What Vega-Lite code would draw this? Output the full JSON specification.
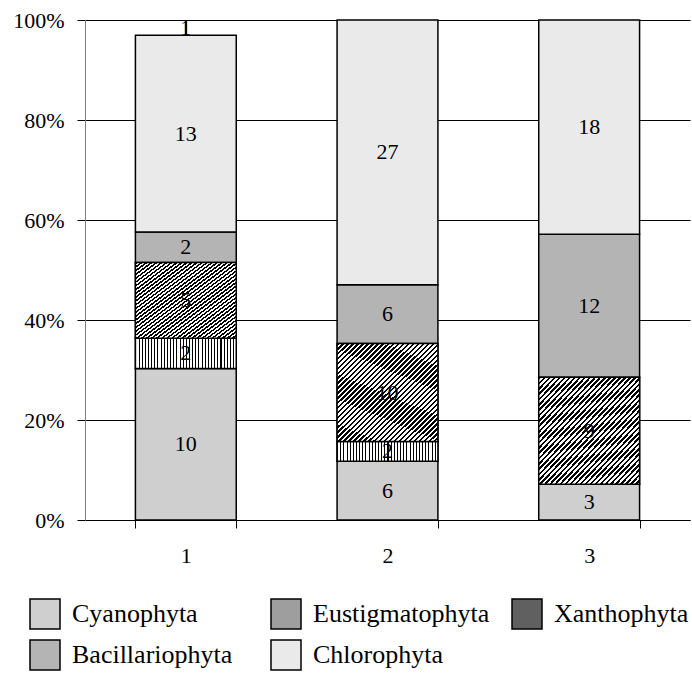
{
  "$schema": "https://vega.github.io/schema/vega-lite/v6.json",
  "width": 605,
  "height": 500,
  "autosize": {"type": "none"},
  "padding": {"left": 85, "top": 20, "right": 2, "bottom": 157},
  "background": "white",
  "config": {
    "view": {"stroke": null},
    "font": "Liberation Serif",
    "axis": {"labelFont": "Liberation Serif", "labelColor": "black", "labelFontSize": 22, "tickColor": "black", "domainColor": "black", "title": null}
  },
  "data": {
    "values": [
      {"Station": "1", "Division": "Cyanophyta", "Count": 10, "order": 1},
      {"Station": "1", "Division": "Eustigmatophyta", "Count": 2, "order": 2},
      {"Station": "1", "Division": "Xanthophyta", "Count": 5, "order": 3},
      {"Station": "1", "Division": "Bacillariophyta", "Count": 2, "order": 4},
      {"Station": "1", "Division": "Chlorophyta", "Count": 13, "order": 5},
      {"Station": "1", "Division": "Other", "Count": 1, "order": 6},
      {"Station": "2", "Division": "Cyanophyta", "Count": 6, "order": 1},
      {"Station": "2", "Division": "Eustigmatophyta", "Count": 2, "order": 2},
      {"Station": "2", "Division": "Xanthophyta", "Count": 10, "order": 3},
      {"Station": "2", "Division": "Bacillariophyta", "Count": 6, "order": 4},
      {"Station": "2", "Division": "Chlorophyta", "Count": 27, "order": 5},
      {"Station": "3", "Division": "Cyanophyta", "Count": 3, "order": 1},
      {"Station": "3", "Division": "Xanthophyta", "Count": 9, "order": 3},
      {"Station": "3", "Division": "Bacillariophyta", "Count": 12, "order": 4},
      {"Station": "3", "Division": "Chlorophyta", "Count": 18, "order": 5}
    ]
  },
  "transform": [
    {"stack": "Count", "groupby": ["Station"], "sort": [{"field": "order", "order": "ascending"}], "offset": "normalize", "as": ["y0", "y1"]},
    {"calculate": "(datum.y0 + datum.y1) / 2", "as": "ymid"}
  ],
  "encoding": {
    "x": {
      "field": "Station", "type": "nominal",
      "scale": {"paddingInner": 0.5, "paddingOuter": 0.25},
      "axis": {"labelAngle": 0, "tickBand": "extent", "tickSize": 8, "labelPadding": 17, "title": null}
    }
  },
  "layer": [
    {
      "transform": [{"filter": "datum.Division !== 'Other'"}],
      "mark": {"type": "bar", "stroke": "black", "strokeWidth": 1.5},
      "encoding": {
        "y": {
          "field": "y1", "type": "quantitative",
          "scale": {"domain": [0, 1]},
          "axis": {"format": "%", "values": [0, 0.2, 0.4, 0.6, 0.8, 1], "grid": true, "gridColor": "black", "gridOpacity": 1, "tickSize": 8, "labelPadding": 13, "domainColor": "#808080", "title": null}
        },
        "y2": {"field": "y0"},
        "fill": {
          "field": "Division", "type": "nominal",
          "scale": {
            "domain": ["Cyanophyta", "Eustigmatophyta", "Xanthophyta", "Bacillariophyta", "Chlorophyta"],
            "range": ["#cfcfcf", "#9e9e9e", "#606060", "#b4b4b4", "#eaeaea"]
          },
          "legend": {
            "orient": "none", "legendX": -56, "legendY": 578, "title": null, "direction": "horizontal",
            "columns": 3, "gridAlign": "all", "columnPadding": 19, "rowPadding": 5,
            "symbolType": "square", "symbolSize": 900, "symbolStrokeColor": "black", "symbolStrokeWidth": 1.5,
            "labelFont": "Liberation Serif", "labelFontSize": 26, "labelColor": "black", "labelOffset": 11, "labelLimit": 400,
            "padding": 0
          }
        }
      }
    },
    {
      "transform": [{"filter": "datum.Division === 'Eustigmatophyta'"}],
      "mark": {"type": "bar", "stroke": "black", "strokeWidth": 1.5,
        "fill": {"gradient": "linear", "x1": 0, "y1": 0, "x2": 1, "y2": 0, "stops": [
          {"offset": 0, "color": "#000"}, {"offset": 0.01, "color": "#000"}, {"offset": 0.01, "color": "#fff"}, {"offset": 0.03125, "color": "#fff"},
          {"offset": 0.03125, "color": "#000"}, {"offset": 0.04125, "color": "#000"}, {"offset": 0.04125, "color": "#fff"}, {"offset": 0.0625, "color": "#fff"},
          {"offset": 0.0625, "color": "#000"}, {"offset": 0.0725, "color": "#000"}, {"offset": 0.0725, "color": "#fff"}, {"offset": 0.09375, "color": "#fff"},
          {"offset": 0.09375, "color": "#000"}, {"offset": 0.10375, "color": "#000"}, {"offset": 0.10375, "color": "#fff"}, {"offset": 0.125, "color": "#fff"},
          {"offset": 0.125, "color": "#000"}, {"offset": 0.135, "color": "#000"}, {"offset": 0.135, "color": "#fff"}, {"offset": 0.15625, "color": "#fff"},
          {"offset": 0.15625, "color": "#000"}, {"offset": 0.16625, "color": "#000"}, {"offset": 0.16625, "color": "#fff"}, {"offset": 0.1875, "color": "#fff"},
          {"offset": 0.1875, "color": "#000"}, {"offset": 0.1975, "color": "#000"}, {"offset": 0.1975, "color": "#fff"}, {"offset": 0.21875, "color": "#fff"},
          {"offset": 0.21875, "color": "#000"}, {"offset": 0.22875, "color": "#000"}, {"offset": 0.22875, "color": "#fff"}, {"offset": 0.25, "color": "#fff"},
          {"offset": 0.25, "color": "#000"}, {"offset": 0.26, "color": "#000"}, {"offset": 0.26, "color": "#fff"}, {"offset": 0.28125, "color": "#fff"},
          {"offset": 0.28125, "color": "#000"}, {"offset": 0.29125, "color": "#000"}, {"offset": 0.29125, "color": "#fff"}, {"offset": 0.3125, "color": "#fff"},
          {"offset": 0.3125, "color": "#000"}, {"offset": 0.3225, "color": "#000"}, {"offset": 0.3225, "color": "#fff"}, {"offset": 0.34375, "color": "#fff"},
          {"offset": 0.34375, "color": "#000"}, {"offset": 0.35375, "color": "#000"}, {"offset": 0.35375, "color": "#fff"}, {"offset": 0.375, "color": "#fff"},
          {"offset": 0.375, "color": "#000"}, {"offset": 0.385, "color": "#000"}, {"offset": 0.385, "color": "#fff"}, {"offset": 0.40625, "color": "#fff"},
          {"offset": 0.40625, "color": "#000"}, {"offset": 0.41625, "color": "#000"}, {"offset": 0.41625, "color": "#fff"}, {"offset": 0.4375, "color": "#fff"},
          {"offset": 0.4375, "color": "#000"}, {"offset": 0.4475, "color": "#000"}, {"offset": 0.4475, "color": "#fff"}, {"offset": 0.46875, "color": "#fff"},
          {"offset": 0.46875, "color": "#000"}, {"offset": 0.47875, "color": "#000"}, {"offset": 0.47875, "color": "#fff"}, {"offset": 0.5, "color": "#fff"},
          {"offset": 0.5, "color": "#000"}, {"offset": 0.51, "color": "#000"}, {"offset": 0.51, "color": "#fff"}, {"offset": 0.53125, "color": "#fff"},
          {"offset": 0.53125, "color": "#000"}, {"offset": 0.54125, "color": "#000"}, {"offset": 0.54125, "color": "#fff"}, {"offset": 0.5625, "color": "#fff"},
          {"offset": 0.5625, "color": "#000"}, {"offset": 0.5725, "color": "#000"}, {"offset": 0.5725, "color": "#fff"}, {"offset": 0.59375, "color": "#fff"},
          {"offset": 0.59375, "color": "#000"}, {"offset": 0.60375, "color": "#000"}, {"offset": 0.60375, "color": "#fff"}, {"offset": 0.625, "color": "#fff"},
          {"offset": 0.625, "color": "#000"}, {"offset": 0.635, "color": "#000"}, {"offset": 0.635, "color": "#fff"}, {"offset": 0.65625, "color": "#fff"},
          {"offset": 0.65625, "color": "#000"}, {"offset": 0.66625, "color": "#000"}, {"offset": 0.66625, "color": "#fff"}, {"offset": 0.6875, "color": "#fff"},
          {"offset": 0.6875, "color": "#000"}, {"offset": 0.6975, "color": "#000"}, {"offset": 0.6975, "color": "#fff"}, {"offset": 0.71875, "color": "#fff"},
          {"offset": 0.71875, "color": "#000"}, {"offset": 0.72875, "color": "#000"}, {"offset": 0.72875, "color": "#fff"}, {"offset": 0.75, "color": "#fff"},
          {"offset": 0.75, "color": "#000"}, {"offset": 0.76, "color": "#000"}, {"offset": 0.76, "color": "#fff"}, {"offset": 0.78125, "color": "#fff"},
          {"offset": 0.78125, "color": "#000"}, {"offset": 0.79125, "color": "#000"}, {"offset": 0.79125, "color": "#fff"}, {"offset": 0.8125, "color": "#fff"},
          {"offset": 0.8125, "color": "#000"}, {"offset": 0.8225, "color": "#000"}, {"offset": 0.8225, "color": "#fff"}, {"offset": 0.84375, "color": "#fff"},
          {"offset": 0.84375, "color": "#000"}, {"offset": 0.85375, "color": "#000"}, {"offset": 0.85375, "color": "#fff"}, {"offset": 0.875, "color": "#fff"},
          {"offset": 0.875, "color": "#000"}, {"offset": 0.885, "color": "#000"}, {"offset": 0.885, "color": "#fff"}, {"offset": 0.90625, "color": "#fff"},
          {"offset": 0.90625, "color": "#000"}, {"offset": 0.91625, "color": "#000"}, {"offset": 0.91625, "color": "#fff"}, {"offset": 0.9375, "color": "#fff"},
          {"offset": 0.9375, "color": "#000"}, {"offset": 0.9475, "color": "#000"}, {"offset": 0.9475, "color": "#fff"}, {"offset": 0.96875, "color": "#fff"},
          {"offset": 0.96875, "color": "#000"}, {"offset": 0.97875, "color": "#000"}, {"offset": 0.97875, "color": "#fff"}, {"offset": 1, "color": "#fff"}
        ]}
      },
      "encoding": {
        "y": {"field": "y1", "type": "quantitative"},
        "y2": {"field": "y0"}
      }
    },
    {
      "transform": [{"filter": "datum.Division === 'Xanthophyta'"}],
      "mark": {"type": "bar", "stroke": "black", "strokeWidth": 1.5,
        "fill": {"gradient": "linear", "x1": 0, "y1": 0, "x2": 1, "y2": 1, "stops": [
          {"offset": 0, "color": "#000"}, {"offset": 0.0125, "color": "#000"}, {"offset": 0.0125, "color": "#fff"}, {"offset": 0.025, "color": "#fff"},
          {"offset": 0.025, "color": "#000"}, {"offset": 0.0375, "color": "#000"}, {"offset": 0.0375, "color": "#fff"}, {"offset": 0.05, "color": "#fff"},
          {"offset": 0.05, "color": "#000"}, {"offset": 0.0625, "color": "#000"}, {"offset": 0.0625, "color": "#fff"}, {"offset": 0.075, "color": "#fff"},
          {"offset": 0.075, "color": "#000"}, {"offset": 0.0875, "color": "#000"}, {"offset": 0.0875, "color": "#fff"}, {"offset": 0.1, "color": "#fff"},
          {"offset": 0.1, "color": "#000"}, {"offset": 0.1125, "color": "#000"}, {"offset": 0.1125, "color": "#fff"}, {"offset": 0.125, "color": "#fff"},
          {"offset": 0.125, "color": "#000"}, {"offset": 0.1375, "color": "#000"}, {"offset": 0.1375, "color": "#fff"}, {"offset": 0.15, "color": "#fff"},
          {"offset": 0.15, "color": "#000"}, {"offset": 0.1625, "color": "#000"}, {"offset": 0.1625, "color": "#fff"}, {"offset": 0.175, "color": "#fff"},
          {"offset": 0.175, "color": "#000"}, {"offset": 0.1875, "color": "#000"}, {"offset": 0.1875, "color": "#fff"}, {"offset": 0.2, "color": "#fff"},
          {"offset": 0.2, "color": "#000"}, {"offset": 0.2125, "color": "#000"}, {"offset": 0.2125, "color": "#fff"}, {"offset": 0.225, "color": "#fff"},
          {"offset": 0.225, "color": "#000"}, {"offset": 0.2375, "color": "#000"}, {"offset": 0.2375, "color": "#fff"}, {"offset": 0.25, "color": "#fff"},
          {"offset": 0.25, "color": "#000"}, {"offset": 0.2625, "color": "#000"}, {"offset": 0.2625, "color": "#fff"}, {"offset": 0.275, "color": "#fff"},
          {"offset": 0.275, "color": "#000"}, {"offset": 0.2875, "color": "#000"}, {"offset": 0.2875, "color": "#fff"}, {"offset": 0.3, "color": "#fff"},
          {"offset": 0.3, "color": "#000"}, {"offset": 0.3125, "color": "#000"}, {"offset": 0.3125, "color": "#fff"}, {"offset": 0.325, "color": "#fff"},
          {"offset": 0.325, "color": "#000"}, {"offset": 0.3375, "color": "#000"}, {"offset": 0.3375, "color": "#fff"}, {"offset": 0.35, "color": "#fff"},
          {"offset": 0.35, "color": "#000"}, {"offset": 0.3625, "color": "#000"}, {"offset": 0.3625, "color": "#fff"}, {"offset": 0.375, "color": "#fff"},
          {"offset": 0.375, "color": "#000"}, {"offset": 0.3875, "color": "#000"}, {"offset": 0.3875, "color": "#fff"}, {"offset": 0.4, "color": "#fff"},
          {"offset": 0.4, "color": "#000"}, {"offset": 0.4125, "color": "#000"}, {"offset": 0.4125, "color": "#fff"}, {"offset": 0.425, "color": "#fff"},
          {"offset": 0.425, "color": "#000"}, {"offset": 0.4375, "color": "#000"}, {"offset": 0.4375, "color": "#fff"}, {"offset": 0.45, "color": "#fff"},
          {"offset": 0.45, "color": "#000"}, {"offset": 0.4625, "color": "#000"}, {"offset": 0.4625, "color": "#fff"}, {"offset": 0.475, "color": "#fff"},
          {"offset": 0.475, "color": "#000"}, {"offset": 0.4875, "color": "#000"}, {"offset": 0.4875, "color": "#fff"}, {"offset": 0.5, "color": "#fff"},
          {"offset": 0.5, "color": "#000"}, {"offset": 0.5125, "color": "#000"}, {"offset": 0.5125, "color": "#fff"}, {"offset": 0.525, "color": "#fff"},
          {"offset": 0.525, "color": "#000"}, {"offset": 0.5375, "color": "#000"}, {"offset": 0.5375, "color": "#fff"}, {"offset": 0.55, "color": "#fff"},
          {"offset": 0.55, "color": "#000"}, {"offset": 0.5625, "color": "#000"}, {"offset": 0.5625, "color": "#fff"}, {"offset": 0.575, "color": "#fff"},
          {"offset": 0.575, "color": "#000"}, {"offset": 0.5875, "color": "#000"}, {"offset": 0.5875, "color": "#fff"}, {"offset": 0.6, "color": "#fff"},
          {"offset": 0.6, "color": "#000"}, {"offset": 0.6125, "color": "#000"}, {"offset": 0.6125, "color": "#fff"}, {"offset": 0.625, "color": "#fff"},
          {"offset": 0.625, "color": "#000"}, {"offset": 0.6375, "color": "#000"}, {"offset": 0.6375, "color": "#fff"}, {"offset": 0.65, "color": "#fff"},
          {"offset": 0.65, "color": "#000"}, {"offset": 0.6625, "color": "#000"}, {"offset": 0.6625, "color": "#fff"}, {"offset": 0.675, "color": "#fff"},
          {"offset": 0.675, "color": "#000"}, {"offset": 0.6875, "color": "#000"}, {"offset": 0.6875, "color": "#fff"}, {"offset": 0.7, "color": "#fff"},
          {"offset": 0.7, "color": "#000"}, {"offset": 0.7125, "color": "#000"}, {"offset": 0.7125, "color": "#fff"}, {"offset": 0.725, "color": "#fff"},
          {"offset": 0.725, "color": "#000"}, {"offset": 0.7375, "color": "#000"}, {"offset": 0.7375, "color": "#fff"}, {"offset": 0.75, "color": "#fff"},
          {"offset": 0.75, "color": "#000"}, {"offset": 0.7625, "color": "#000"}, {"offset": 0.7625, "color": "#fff"}, {"offset": 0.775, "color": "#fff"},
          {"offset": 0.775, "color": "#000"}, {"offset": 0.7875, "color": "#000"}, {"offset": 0.7875, "color": "#fff"}, {"offset": 0.8, "color": "#fff"},
          {"offset": 0.8, "color": "#000"}, {"offset": 0.8125, "color": "#000"}, {"offset": 0.8125, "color": "#fff"}, {"offset": 0.825, "color": "#fff"},
          {"offset": 0.825, "color": "#000"}, {"offset": 0.8375, "color": "#000"}, {"offset": 0.8375, "color": "#fff"}, {"offset": 0.85, "color": "#fff"},
          {"offset": 0.85, "color": "#000"}, {"offset": 0.8625, "color": "#000"}, {"offset": 0.8625, "color": "#fff"}, {"offset": 0.875, "color": "#fff"},
          {"offset": 0.875, "color": "#000"}, {"offset": 0.8875, "color": "#000"}, {"offset": 0.8875, "color": "#fff"}, {"offset": 0.9, "color": "#fff"},
          {"offset": 0.9, "color": "#000"}, {"offset": 0.9125, "color": "#000"}, {"offset": 0.9125, "color": "#fff"}, {"offset": 0.925, "color": "#fff"},
          {"offset": 0.925, "color": "#000"}, {"offset": 0.9375, "color": "#000"}, {"offset": 0.9375, "color": "#fff"}, {"offset": 0.95, "color": "#fff"},
          {"offset": 0.95, "color": "#000"}, {"offset": 0.9625, "color": "#000"}, {"offset": 0.9625, "color": "#fff"}, {"offset": 0.975, "color": "#fff"},
          {"offset": 0.975, "color": "#000"}, {"offset": 0.9875, "color": "#000"}, {"offset": 0.9875, "color": "#fff"}, {"offset": 1, "color": "#fff"}
        ]}
      },
      "encoding": {
        "y": {"field": "y1", "type": "quantitative"},
        "y2": {"field": "y0"}
      }
    },
    {
      "transform": [{"filter": "datum.Division === 'Other'"}],
      "mark": {"type": "rule", "stroke": "black", "strokeWidth": 2},
      "encoding": {
        "y": {"field": "y0", "type": "quantitative"},
        "y2": {"field": "y1"}
      }
    },
    {
      "transform": [{"filter": "datum.Count > 0"}],
      "mark": {"type": "text", "font": "Liberation Serif", "fontSize": 22, "color": "black", "baseline": "middle"},
      "encoding": {
        "y": {"field": "ymid", "type": "quantitative"},
        "text": {"field": "Count", "type": "quantitative"}
      }
    }
  ]
}
